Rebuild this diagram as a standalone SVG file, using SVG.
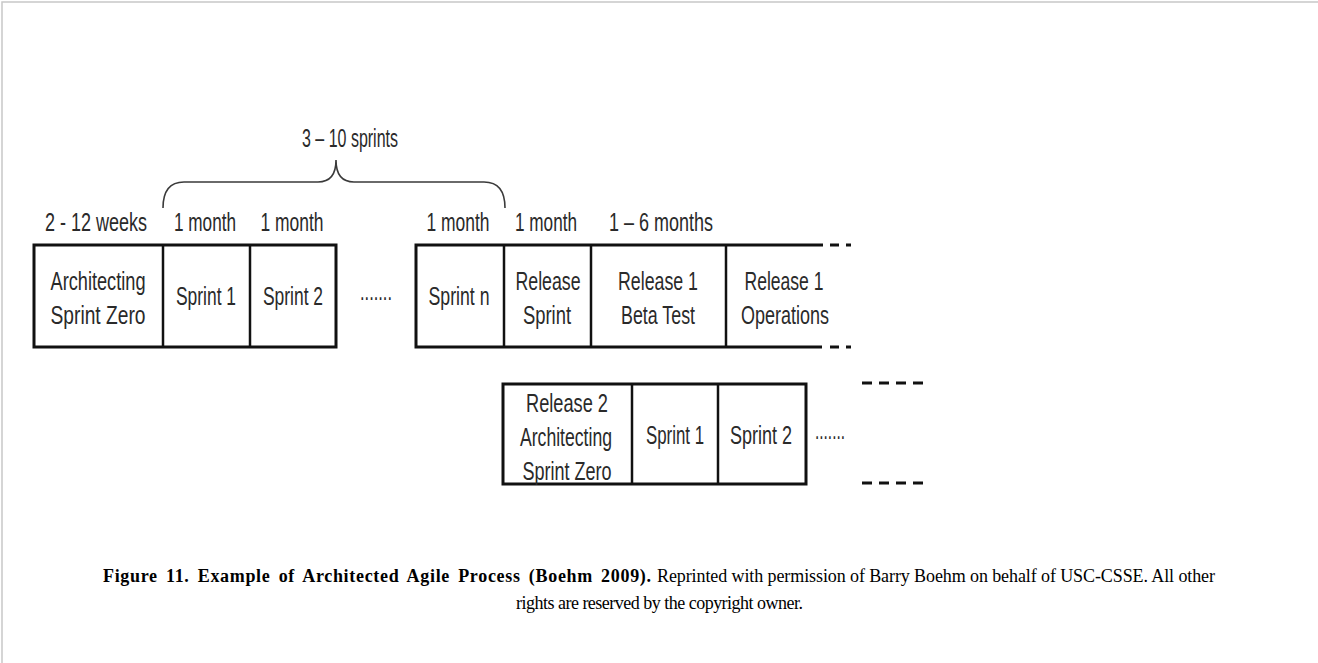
<svg xmlns="http://www.w3.org/2000/svg" width="1318" height="663" viewBox="0 0 1318 663">
<style>
.t{font-family:"Liberation Sans",Arial,sans-serif;font-size:26px;fill:#2a2a2a;text-anchor:middle}
.cap{font-family:"Liberation Serif","Times New Roman",serif;font-size:18px;fill:#000}
.box{fill:none;stroke:#111;stroke-width:3}
.div{stroke:#111;stroke-width:2.5}
.dash{stroke:#111;stroke-width:3}
</style>
<rect x="0" y="0" width="1318" height="663" fill="#fff"/>
<path d="M2,663 V2 H1318" fill="none" stroke="#c8c8c8" stroke-width="1.5"/>

<g id="span-label">
<text class="t" x="350" y="147" textLength="96" lengthAdjust="spacingAndGlyphs">3 – 10 sprints</text>
</g>
<g id="durations">
<text class="t" x="96" y="231" textLength="102" lengthAdjust="spacingAndGlyphs">2 - 12 weeks</text>
<text class="t" x="205" y="231" textLength="62" lengthAdjust="spacingAndGlyphs">1 month</text>
<text class="t" x="292" y="231" textLength="63" lengthAdjust="spacingAndGlyphs">1 month</text>
<text class="t" x="458" y="231" textLength="63" lengthAdjust="spacingAndGlyphs">1 month</text>
<text class="t" x="546" y="231" textLength="62" lengthAdjust="spacingAndGlyphs">1 month</text>
<text class="t" x="661" y="231" textLength="104" lengthAdjust="spacingAndGlyphs">1 – 6 months</text>
</g>

<g id="connectors">
<path id="brace" d="M163,208 Q163,182 184,182 H318 Q336,182 336,160 Q336,182 354,182 H484 Q505,182 505,208" fill="none" stroke="#3a3a3a" stroke-width="1.6"/>
</g>

<g id="release1-start">
<rect class="box" x="34" y="245" width="302" height="102"/>
<line class="div" x1="163" y1="245" x2="163" y2="347"/>
<line class="div" x1="250" y1="245" x2="250" y2="347"/>
</g>
<g id="arch-sprint-zero">
<text class="t" x="98" y="290" textLength="95" lengthAdjust="spacingAndGlyphs">Architecting</text>
<text class="t" x="98" y="324" textLength="95" lengthAdjust="spacingAndGlyphs">Sprint Zero</text>
</g>
<g id="sprint1">
<text class="t" x="206" y="305" textLength="60" lengthAdjust="spacingAndGlyphs">Sprint 1</text>
</g>
<g id="sprint2">
<text class="t" x="293" y="305" textLength="60" lengthAdjust="spacingAndGlyphs">Sprint 2</text>
</g>
<g id="ellipsis1">
<text class="t" x="376" y="300" textLength="32" lengthAdjust="spacingAndGlyphs">.......</text>
</g>

<g id="release1-end">
<path class="box" d="M823,245 H416 V347 H822"/>
<line class="div" x1="504" y1="245" x2="504" y2="347"/>
<line class="div" x1="591" y1="245" x2="591" y2="347"/>
<line class="div" x1="726" y1="245" x2="726" y2="347"/>
<path class="dash" d="M830,245 H839 M846,245 H851 M830,347 H839 M846,347 H851"/>
</g>
<g id="sprint-n">
<text class="t" x="459" y="305" textLength="61" lengthAdjust="spacingAndGlyphs">Sprint n</text>
</g>
<g id="release-sprint">
<text class="t" x="548" y="290" textLength="65" lengthAdjust="spacingAndGlyphs">Release</text>
<text class="t" x="547" y="324" textLength="48" lengthAdjust="spacingAndGlyphs">Sprint</text>
</g>
<g id="beta-test">
<text class="t" x="658" y="290" textLength="80" lengthAdjust="spacingAndGlyphs">Release 1</text>
<text class="t" x="658" y="324" textLength="74" lengthAdjust="spacingAndGlyphs">Beta Test</text>
</g>
<g id="operations">
<text class="t" x="784" y="290" textLength="79" lengthAdjust="spacingAndGlyphs">Release 1</text>
<text class="t" x="785" y="324" textLength="88" lengthAdjust="spacingAndGlyphs">Operations</text>
</g>

<g id="release2">
<rect class="box" x="503" y="384" width="303" height="100"/>
<line class="div" x1="632" y1="384" x2="632" y2="484"/>
<line class="div" x1="718" y1="384" x2="718" y2="484"/>
<path class="dash" d="M862,383 H872 M879,383 H889 M896,383 H906 M913,383 H923 M862,483 H872 M879,483 H889 M896,483 H906 M913,483 H923"/>
</g>
<g id="r2-arch-sprint-zero">
<text class="t" x="567" y="412" textLength="82" lengthAdjust="spacingAndGlyphs">Release 2</text>
<text class="t" x="566" y="446" textLength="92" lengthAdjust="spacingAndGlyphs">Architecting</text>
<text class="t" x="567" y="480" textLength="89" lengthAdjust="spacingAndGlyphs">Sprint Zero</text>
</g>
<g id="r2-sprint1">
<text class="t" x="675" y="444" textLength="58" lengthAdjust="spacingAndGlyphs">Sprint 1</text>
</g>
<g id="r2-sprint2">
<text class="t" x="761" y="444" textLength="62" lengthAdjust="spacingAndGlyphs">Sprint 2</text>
</g>
<g id="ellipsis2">
<text class="t" x="830" y="439" textLength="30" lengthAdjust="spacingAndGlyphs">.......</text>
</g>

<g id="caption">
<text class="cap" x="103" y="582" font-weight="bold" font-size="18.5" textLength="548" lengthAdjust="spacing" word-spacing="3">Figure 11. Example of Architected Agile Process (Boehm 2009).</text>
<text class="cap" x="657" y="582" textLength="558" lengthAdjust="spacing">Reprinted with permission of Barry Boehm on behalf of USC-CSSE. All other</text>
<text class="cap" x="516" y="609" font-size="17.5" textLength="287" lengthAdjust="spacing">rights are reserved by the copyright owner.</text>
</g>
</svg>
